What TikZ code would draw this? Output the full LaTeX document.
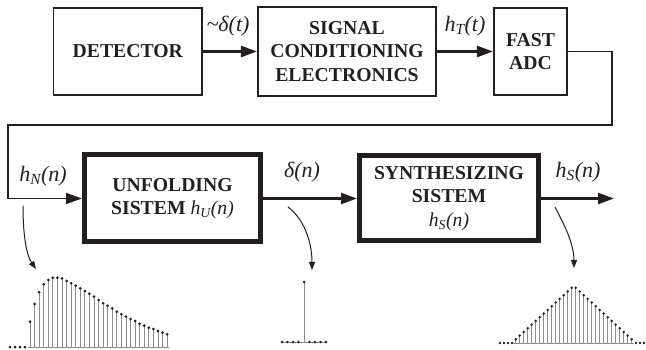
\documentclass[tikz,border=0pt]{standalone}
\usepackage{fontspec}
\setmainfont{Liberation Serif}
\usetikzlibrary{arrows.meta}
\definecolor{ink}{HTML}{231F20}
\definecolor{stemgray}{HTML}{8C8C8C}
\newcommand\hsig[2]{{\normalfont\itshape #1\textsubscript{#2}}}
\begin{document}
\begin{tikzpicture}[x=1pt,y=-1pt,
  thinbox/.style={draw=ink, line width=1.6pt, font=\fontsize{19.7}{23.5}\selectfont\bfseries, align=center, inner sep=0pt, text=ink},
  thickbox/.style={thinbox, line width=5pt},
  lbl/.style={font=\fontsize{22}{26}\selectfont\itshape, text=ink, inner sep=0pt},
  flow/.style={draw=ink, line width=2.5pt, -{Triangle[length=16pt,width=11pt]}},
  feed/.style={draw=ink, line width=1.8pt, -{Triangle[length=16pt,width=11pt]}},
  pick/.style={draw=ink, line width=1pt, -{Triangle[length=8pt,width=6pt]}},
  stemline/.style={draw=stemgray, line width=0.8pt},
  dotmark/.style={fill=ink}
]
\useasboundingbox (0,0) rectangle (646,350);

% boxes
\node[thinbox, minimum width=148.5pt, minimum height=87.5pt] (det) at (127.75,51.5) {DETECTOR};
\node[thinbox, minimum width=178.5pt, minimum height=88.5pt] (sig) at (347,51.5) {SIGNAL\\CONDITIONING\\ELECTRONICS};
\node[thinbox, minimum width=73.5pt, minimum height=87.5pt] (adc) at (530.5,51.5) {FAST\\ADC};
\node[thickbox, minimum width=176pt, minimum height=87pt] (unf) at (172.5,198.5) {UNFOLDING\\SISTEM \hsig{h}{U}{\normalfont\itshape (n)}};
\node[thickbox, minimum width=179pt, minimum height=85pt] (syn) at (449,198.5) {SYNTHESIZING\\SISTEM\\\hsig{h}{S}{\normalfont\itshape (n)}};

% connectors
\draw[flow] (det) -- (sig);
\draw[flow] (sig) -- (adc);
\coordinate (f1) at (612,51.5);
\coordinate (f2) at (612,125);
\coordinate (f3) at (8,125);
\coordinate (f4) at (8,198.5);
\draw[feed] (adc.east) -- (f1) -- (f2) -- (f3) -- (f4) -- (unf.west);
\draw[flow] (unf) -- (syn);
\coordinate (out) at (614,198.5);
\draw[flow] (syn.east) -- (out);

% labels
\node[lbl] (l1) at (228,26) {\textasciitilde δ(t)};
\node[lbl] (l2) at (465,26) {\hsig{h}{T}(t)};
\node[lbl] (l3) at (43,176) {\hsig{h}{N}(n)};
\node[lbl] (l4) at (302,172) {δ(n)};
\node[lbl] (l5) at (578,172) {\hsig{h}{S}(n)};

% pick-off arrows
\coordinate (a1s) at (23,206);  \coordinate (a1e) at (36,269);
\draw[pick] (a1s) .. controls (23,238) and (27,256) .. (a1e);
\coordinate (a2s) at (288,207); \coordinate (a2e) at (312,270);
\draw[pick] (a2s) .. controls (304,219) and (312,242) .. (a2e);
\coordinate (a3s) at (555,207); \coordinate (a3e) at (574,268);
\draw[pick] (a3s) .. controls (564,224) and (574,244) .. (a3e);

% left pulse
\draw[stemline] (28,347) -- (169,347);
\foreach \xx in {10,15,20,25} {\fill[dotmark] (\xx,347) circle (1.5pt);}
\foreach \h [count=\i from 0] in {25.3,43,54.7,62.7,67,69.3,69.3,68.7,66,63.7,61.3,58.7,56,53.3,50.3,47,43.7,41.3,38.7,35.3,32.7,30.3,28,26,23.3,21.3,19.3,18,16,14.3,12.7} {
  \draw[stemline] (30+4.57*\i,347) -- ++(0,-\h);
  \fill[dotmark] (30+4.57*\i,347-\h) circle (1.5pt);
}

% delta
\draw[stemline] (281,342) -- (327,342);
\draw[stemline] (304,342) -- (304,282);
\fill[dotmark] (304,282) circle (1.5pt);
\foreach \k in {1,2,3,4} {
  \fill[dotmark] (304-5.5*\k,342) circle (1.4pt);
  \fill[dotmark] (304+5.5*\k,342) circle (1.4pt);
}

% triangle
\draw[stemline] (513,343) -- (634,343);
\foreach \xx in {500,504,508,512,636,640,644} {\fill[dotmark] (\xx,343) circle (1.4pt);}
\foreach \k in {0,...,29} {
  \pgfmathsetmacro\tx{515.7+4*\k}
  \pgfmathsetmacro\th{57*(1-abs(\tx-573.7)/62)}
  \draw[stemline] (\tx,343) -- ++(0,-\th);
  \fill[dotmark] (\tx,343-\th) circle (1.4pt);
}
\end{tikzpicture}
\end{document}
